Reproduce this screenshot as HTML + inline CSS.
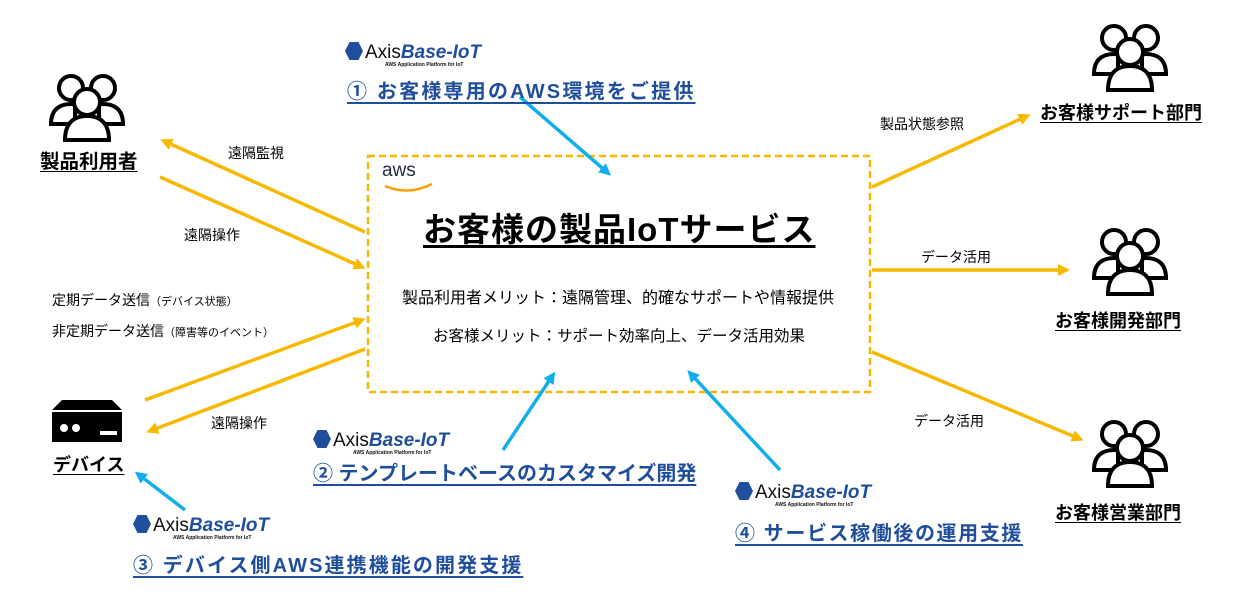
<!DOCTYPE html>
<html><head><meta charset="utf-8"><style>
body{margin:0;width:1237px;height:610px;background:#fff;position:relative;overflow:hidden;font-family:"Liberation Sans","Noto Sans CJK JP",sans-serif;}
.t{position:absolute;white-space:nowrap;color:#000;}
.lbl{font-size:18px;font-weight:bold;text-decoration:underline;text-underline-offset:3px;}
.blue{position:absolute;white-space:nowrap;color:#1F4E9C;font-size:20px;font-weight:bold;text-decoration:underline;text-underline-offset:4px;}
.logo{position:absolute;white-space:nowrap;font-size:19px;color:#111;}
.logo b{color:#1F4E9C;font-style:italic;}
.logo small{position:absolute;left:40px;top:20px;font-size:5px;font-weight:bold;}
.logo i.h{display:inline-block;width:18px;height:18px;background:#1F4E9C;clip-path:polygon(25% 0,75% 0,100% 50%,75% 100%,25% 100%,0 50%);vertical-align:-2px;margin-right:2px;}
.s{font-size:14px;}
</style></head><body>
<svg width="1237" height="610" style="position:absolute;left:0;top:0">
<defs>
<marker id="o" markerWidth="12" markerHeight="12" refX="8" refY="6" orient="auto" markerUnits="userSpaceOnUse" viewBox="0 0 12 12"><path d="M0,0L12,6L0,12z" fill="#F7B900"/></marker>
<marker id="b" markerWidth="12" markerHeight="12" refX="8" refY="6" orient="auto" markerUnits="userSpaceOnUse" viewBox="0 0 12 12"><path d="M0,0L12,6L0,12z" fill="#10AEEA"/></marker>
<g id="ppl" fill="#fff" stroke="#000" stroke-width="4">
<path d="M4,52 C4,38 12,32 24,32 L28,32 L28,52z"/><circle cx="24" cy="16" r="12"/>
<path d="M76,52 C76,38 68,32 56,32 L52,32 L52,52z"/><circle cx="56" cy="16" r="12"/>
<path d="M18,68 C18,50 28,44 40,44 C52,44 62,50 62,68z"/><circle cx="40" cy="30" r="13"/>
</g>
</defs>
<rect x="368" y="156" width="502" height="236" fill="none" stroke="#F7B900" stroke-width="2.5" stroke-dasharray="7,4"/>
<g stroke="#F7B900" stroke-width="3.5" fill="none">
<line x1="365" y1="232" x2="164" y2="141" marker-end="url(#o)"/>
<line x1="160" y1="177" x2="362" y2="267" marker-end="url(#o)"/>
<line x1="145" y1="400" x2="362" y2="320" marker-end="url(#o)"/>
<line x1="365" y1="349" x2="150" y2="431" marker-end="url(#o)"/>
<line x1="872" y1="187" x2="1027" y2="116" marker-end="url(#o)"/>
<line x1="872" y1="270" x2="1066" y2="270" marker-end="url(#o)"/>
<line x1="872" y1="352" x2="1080" y2="439" marker-end="url(#o)"/>
</g>
<g stroke="#10AEEA" stroke-width="3.5" fill="none">
<line x1="520" y1="97" x2="608" y2="173" marker-end="url(#b)"/>
<line x1="503" y1="450" x2="553" y2="375" marker-end="url(#b)"/>
<line x1="780" y1="470" x2="690" y2="373" marker-end="url(#b)"/>
<line x1="185" y1="510" x2="138" y2="474" marker-end="url(#b)"/>
</g>
<use href="#ppl" x="47" y="72"/>
<use href="#ppl" x="1090" y="22"/>
<use href="#ppl" x="1090" y="226"/>
<use href="#ppl" x="1090" y="418"/>
<path d="M62,400 L112,400 L122,410 L52,410z" fill="#000"/>
<rect x="52" y="412" width="70" height="30" fill="#000"/>
<circle cx="64" cy="428" r="4" fill="#fff"/><circle cx="76" cy="428" r="4" fill="#fff"/>
<rect x="100" y="431" width="17" height="4" fill="#fff"/>
<path d="M385,186 Q408,196 432,184" stroke="#F7A000" stroke-width="2.5" fill="none"/>
</svg>
<div class="t" style="left:382px;top:160px;font-size:19px;color:#232F3E;">aws</div>
<div class="t" style="left:423px;top:203px;font-size:33px;font-weight:bold;letter-spacing:1px;text-decoration:underline;text-underline-offset:4px;">お客様の製品IoTサービス</div>
<div class="t" style="left:402px;top:284px;font-size:16px;">製品利用者メリット：遠隔管理、的確なサポートや情報提供</div>
<div class="t" style="left:433px;top:324px;font-size:15.5px;">お客様メリット：サポート効率向上、データ活用効果</div>
<div class="t lbl" style="left:40px;top:145px;font-size:19.5px;">製品利用者</div>
<div class="t lbl" style="left:53px;top:451px;">デバイス</div>
<div class="t lbl" style="left:1040px;top:99px;">お客様サポート部門</div>
<div class="t lbl" style="left:1055px;top:307px;">お客様開発部門</div>
<div class="t lbl" style="left:1055px;top:499px;">お客様営業部門</div>
<div class="t s" style="left:228px;top:143px;">遠隔監視</div>
<div class="t s" style="left:184px;top:225px;">遠隔操作</div>
<div class="t s" style="left:211px;top:413px;">遠隔操作</div>
<div class="t s" style="left:52px;top:290px;">定期データ送信<span style="font-size:11px">（デバイス状態）</span></div>
<div class="t s" style="left:52px;top:321px;">非定期データ送信<span style="font-size:11px">（障害等のイベント）</span></div>
<div class="t s" style="left:880px;top:114px;">製品状態参照</div>
<div class="t s" style="left:921px;top:247px;">データ活用</div>
<div class="t s" style="left:914px;top:411px;">データ活用</div>
<div class="logo" style="left:345px;top:42px;"><i class="h"></i>Axis<b>Base-IoT</b><small>AWS Application Platform for IoT</small></div>
<div class="blue" style="left:347px;top:75px;letter-spacing:2.2px;">① お客様専用のAWS環境をご提供</div>
<div class="logo" style="left:313px;top:430px;"><i class="h"></i>Axis<b>Base-IoT</b><small>AWS Application Platform for IoT</small></div>
<div class="blue" style="left:313px;top:457px;">② テンプレートベースのカスタマイズ開発</div>
<div class="logo" style="left:735px;top:482px;"><i class="h"></i>Axis<b>Base-IoT</b><small>AWS Application Platform for IoT</small></div>
<div class="blue" style="left:735px;top:517px;letter-spacing:1.6px;">④ サービス稼働後の運用支援</div>
<div class="logo" style="left:133px;top:515px;"><i class="h"></i>Axis<b>Base-IoT</b><small>AWS Application Platform for IoT</small></div>
<div class="blue" style="left:133px;top:549px;letter-spacing:2.1px;">③ デバイス側AWS連携機能の開発支援</div>
</body></html>
